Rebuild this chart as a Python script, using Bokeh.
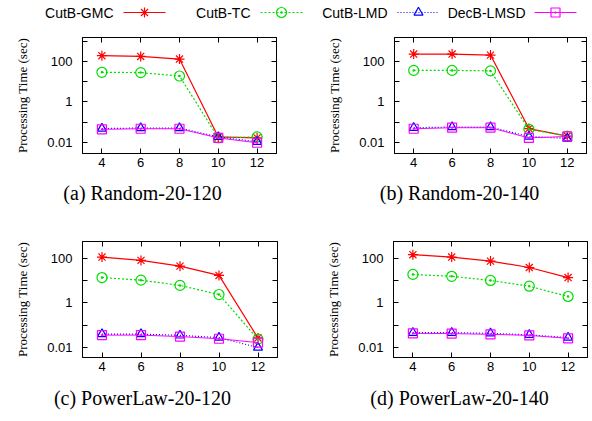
from bokeh.plotting import figure
from bokeh.layouts import column, row
from bokeh.models import (Range1d, FixedTicker, LogAxis, LinearAxis, NumeralTickFormatter,
                          CustomJSTickFormatter, ColumnDataSource)
from bokeh.core.properties import value
from bokeh.embed import file_html
from bokeh.resources import INLINE

# ---------------- data ----------------
xs = [4, 6, 8, 10, 12]
x_ticks = [4, 6, 8, 10, 12]
series_names = ["CutB-GMC", "CutB-TC", "CutB-LMD", "DecB-LMSD"]

a_gmc = [190, 175, 130, 0.019, 0.017]
a_tc = [29, 28, 19, 0.017, 0.019]
a_lmd = [0.049, 0.052, 0.052, 0.019, 0.011]
a_lmsd = [0.045, 0.048, 0.048, 0.017, 0.0098]

b_gmc = [229, 229, 204, 0.049, 0.021]
b_tc = [36, 36, 34, 0.045, 0.021]
b_lmd = [0.054, 0.058, 0.058, 0.020, 0.016]
b_lmsd = [0.048, 0.054, 0.054, 0.017, 0.020]

c_gmc = [119, 84, 46, 17.5, 0.026]
c_tc = [14, 10.7, 6.2, 2.4, 0.023]
c_lmd = [0.039, 0.039, 0.034, 0.027, 0.0096]
c_lmsd = [0.035, 0.035, 0.030, 0.024, 0.016]

d_gmc = [152, 119, 78, 40, 14]
d_tc = [19.5, 16, 10.4, 5.7, 1.95]
d_lmd = [0.045, 0.045, 0.042, 0.036, 0.027]
d_lmsd = [0.042, 0.041, 0.038, 0.034, 0.025]

captions_top = ["(a) Random-20-120", "(b) Random-20-140"]
captions_bottom = ["(c) PowerLaw-20-120", "(d) PowerLaw-20-140"]
y_major = [0.01, 1, 100]
y_minor = [0.1, 10, 1000]
y_label = "Processing Time (sec)"

# ---------------- styles ----------------
styles = [
    dict(color="#ff0000", dash="solid", marker="asterisk", size=10, lw=1.2),
    dict(color="#00dd00", dash="2 2", marker="circle_dot", size=10, lw=1.2),
    dict(color="#0000ff", dash="1 2", marker="triangle", size=9, lw=1.2),
    dict(color="#ff00ff", dash="solid", marker="square_dot", size=9, lw=1.0),
]
SANS = "Liberation Sans"
SERIF = "Liberation Serif"
W = 592


def style_axis(ax):
    ax.major_tick_in = 5
    ax.major_tick_out = 0
    ax.minor_tick_in = 5
    ax.minor_tick_out = 0
    ax.axis_line_color = "black"
    ax.major_tick_line_color = "black"
    ax.minor_tick_line_color = "black"
    ax.major_label_text_font = SANS
    ax.major_label_text_font_size = "13px"
    ax.major_label_text_color = "black"


def panel(series, yr, width, height, bl, br, bt, bb):
    p = figure(width=width, height=height, output_backend="svg", toolbar_location=None,
               y_axis_type="log", x_range=Range1d(3, 13), y_range=Range1d(*yr),
               min_border_left=bl, min_border_right=br, min_border_top=bt,
               min_border_bottom=bb, x_axis_location=None, y_axis_location=None)
    p.xgrid.visible = False
    p.ygrid.visible = False
    p.outline_line_color = "black"
    p.outline_line_width = 1
    p.background_fill_color = "white"
    p.border_fill_color = "white"

    blank = CustomJSTickFormatter(code="return ''")
    yl = LogAxis(ticker=FixedTicker(ticks=y_major, minor_ticks=y_minor),
                 formatter=NumeralTickFormatter(format="0.[00]"),
                 axis_label=y_label)
    yr_ax = LogAxis(ticker=FixedTicker(ticks=y_major, minor_ticks=y_minor),
                    formatter=blank, major_label_standoff=0)
    xb = LinearAxis(ticker=FixedTicker(ticks=x_ticks))
    xt = LinearAxis(ticker=FixedTicker(ticks=x_ticks), formatter=blank,
                    major_label_standoff=0)
    for ax in (yl, yr_ax, xb, xt):
        style_axis(ax)
    xb.major_label_standoff = 4
    yl.major_label_standoff = 10
    yl.axis_label_text_font = SERIF
    yl.axis_label_text_font_size = "13px"
    yl.axis_label_text_font_style = "normal"
    yl.axis_label_text_color = "black"
    yl.axis_label_standoff = 14
    xt.minor_tick_in = 0
    xb.minor_tick_in = 0
    p.add_layout(yl, "left")
    p.add_layout(yr_ax, "right")
    p.add_layout(xb, "below")
    p.add_layout(xt, "above")

    for vals, st in zip(series, styles):
        src = ColumnDataSource(dict(x=xs, y=vals))
        p.line("x", "y", source=src, line_color=st["color"], line_dash=st["dash"],
               line_width=st["lw"])
        p.scatter("x", "y", source=src, marker=st["marker"], size=st["size"],
                  line_color=st["color"], fill_color=None, line_width=1.2)
    return p


def strip(height):
    s = figure(width=W, height=height, output_backend="svg", toolbar_location=None,
               x_range=Range1d(0, W), y_range=Range1d(height, 0),
               min_border=0, x_axis_location=None, y_axis_location=None)
    s.xgrid.visible = False
    s.ygrid.visible = False
    s.outline_line_color = None
    return s


def caption_strip(height, texts, cy):
    s = strip(height)
    s.text(x=[142, 459], y=[cy, cy], text=texts, text_align="center",
           text_baseline="middle", text_font=value(SERIF), text_font_size="20px",
           text_color="black")
    return s


YR_TOP = (0.0029, 1500)
YR_BOT = (0.0034, 600)

pa = panel([a_gmc, a_tc, a_lmd, a_lmsd], YR_TOP, 318, 145, 82, 42, 7, 22)
pb = panel([b_gmc, b_tc, b_lmd, b_lmsd], YR_TOP, 274, 145, 76, 6, 7, 22)
pc = panel([c_gmc, c_tc, c_lmd, c_lmsd], YR_BOT, 318, 166, 82, 41, 29, 21)
pd = panel([d_gmc, d_tc, d_lmd, d_lmsd], YR_BOT, 274, 166, 75, 5, 29, 21)

cap1 = caption_strip(37, captions_top, 17)
cap2 = caption_strip(43, captions_bottom, 19)

# ---------------- legend strip ----------------
leg = strip(30)
text_right = [113, 250, 387, 525]
line_left = [123, 260, 397, 534]
line_len = 42
ly = 12
leg.text(x=text_right, y=[ly] * 4, text=series_names, text_align="right",
         text_baseline="middle", text_font=value(SANS), text_font_size="14px",
         text_color="black")
for xl, st in zip(line_left, styles):
    leg.line(x=[xl, xl + line_len], y=[ly, ly], line_color=st["color"],
             line_dash=st["dash"], line_width=st["lw"])
    leg.scatter(x=[xl + line_len / 2], y=[ly], marker=st["marker"], size=st["size"],
                line_color=st["color"], fill_color=None, line_width=1.2)

layout = column(leg, row(pa, pb), cap1, row(pc, pd), cap2)
open("out.html", "w").write(file_html(layout, INLINE))
